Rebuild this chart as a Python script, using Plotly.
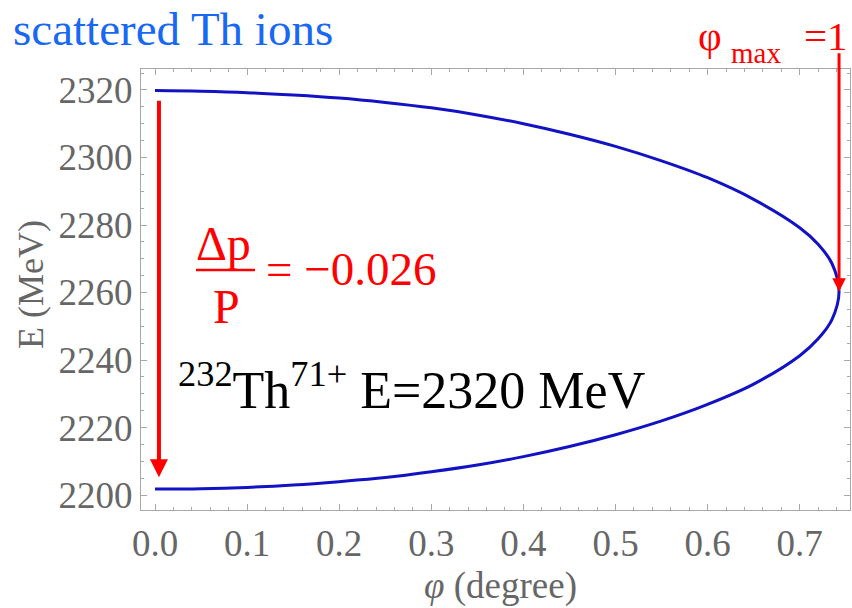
import plotly.graph_objects as go

# Kinematic curve of scattered ions: angle (degree) vs energy (MeV)
phi_branch = [0.0, 0.05, 0.1, 0.15, 0.2, 0.25, 0.3, 0.35, 0.4, 0.45, 0.5, 0.55,
              0.6, 0.65, 0.7, 0.72, 0.735]
E_upper = [2319.8, 2319.6, 2319.2, 2318.5, 2317.6, 2316.3, 2314.7, 2312.6, 2310.0,
           2306.9, 2303.3, 2299.0, 2294.0, 2287.6, 2279.2, 2274.3, 2268.6]
E_lower = [2201.8, 2201.9, 2202.3, 2203.0, 2204.0, 2205.2, 2206.9, 2208.9, 2211.4,
           2214.4, 2217.9, 2222.0, 2226.9, 2232.9, 2241.3, 2246.3, 2252.0]
phi_max = 0.7427
E_at_phi_max = 2260.2

x_ticks = [0.0, 0.1, 0.2, 0.3, 0.4, 0.5, 0.6, 0.7]
y_ticks = [2200, 2220, 2240, 2260, 2280, 2300, 2320]

W, H = 852, 608
M_L, M_R, M_T, M_B = 141, 2, 69, 98
PW, PH = W - M_L - M_R, H - M_T - M_B


def paper(px, py):
    """Convert page pixel position to paper coordinates."""
    return (px - M_L) / PW, (H - M_B - py) / PH


SERIF = "Liberation Serif, Times New Roman, Times, serif"
RED = "#ff0000"
GREY = "#666666"

phi = phi_branch + [phi_max] + phi_branch[::-1]
E = E_upper + [E_at_phi_max] + E_lower[::-1]

fig = go.Figure()
fig.add_trace(go.Scatter(
    x=phi, y=E, mode="lines",
    line=dict(color="#1212c4", width=3, shape="spline", smoothing=1.0),
    hoverinfo="skip", showlegend=False,
))

axis_common = dict(
    showgrid=False, zeroline=False,
    showline=True, linecolor="#a8a8a8", linewidth=1.2, mirror="allticks",
    ticks="inside", ticklen=6, tickcolor="#a8a8a8", tickwidth=1,
    tickfont=dict(family=SERIF, size=37, color=GREY),
)

fig.update_xaxes(
    range=[-0.0152, 0.7546], tickvals=x_ticks,
    ticktext=[f"{v:.1f}" for v in x_ticks],
    minor=dict(ticks="inside", ticklen=3, dtick=0.02, tick0=0, tickcolor="#a8a8a8"),
    **axis_common,
)
fig.update_yaxes(
    range=[2195.6, 2326.2], tickvals=y_ticks,
    minor=dict(ticks="inside", ticklen=3, dtick=5, tick0=2200, tickcolor="#a8a8a8"),
    **axis_common,
)

annotations = []


def text(label, px, py, size, color, xanchor="left", angle=0):
    x, y = paper(px, py)
    annotations.append(dict(
        text=label, x=x, y=y, xref="paper", yref="paper",
        xanchor=xanchor, yanchor="middle", showarrow=False, textangle=angle,
        font=dict(family=SERIF, size=size, color=color),
    ))


text("scattered Th ions", 11, 29, 47, "#1768f2")
text("φ", 696, 36, 41, RED)
text("max", 729, 53, 29, RED)
text("=1", 802, 36, 41, RED)
text("Δp", 223, 243, 48, RED, xanchor="center")
text("P", 226, 306, 48, RED, xanchor="center")
text("= −0.026", 264, 269, 47, RED)
text("<sup>232</sup>Th<sup>71+</sup> E=2320 MeV", 176, 386, 52, "#000000")
text("E (MeV)", 31, 285, 36, GREY, xanchor="center", angle=-90)
text("<i>φ</i> (degree)", 500, 586, 37, GREY, xanchor="center")

# Arrows marking the full energy spread and the maximum angle
annotations.append(dict(
    x=0.0043, y=E_lower[0] + 3.5, xref="x", yref="y", ax=0, ay=-378,
    showarrow=True, arrowhead=2, arrowsize=0.9, arrowwidth=4, arrowcolor=RED, text="",
))
annotations.append(dict(
    x=phi_max, y=E_at_phi_max, xref="x", yref="y", ax=0, ay=-240,
    showarrow=True, arrowhead=2, arrowsize=0.9, arrowwidth=3, arrowcolor=RED, text="",
))

bx0, by = paper(196, 270)
bx1, _ = paper(255, 270)

fig.update_layout(
    width=W, height=H,
    margin=dict(l=M_L, r=M_R, t=M_T, b=M_B, pad=0),
    paper_bgcolor="white", plot_bgcolor="white",
    annotations=annotations,
    shapes=[dict(type="line", xref="paper", yref="paper",
                 x0=bx0, x1=bx1, y0=by, y1=by,
                 line=dict(color=RED, width=2.5))],
)

fig.write_html("out.html")
